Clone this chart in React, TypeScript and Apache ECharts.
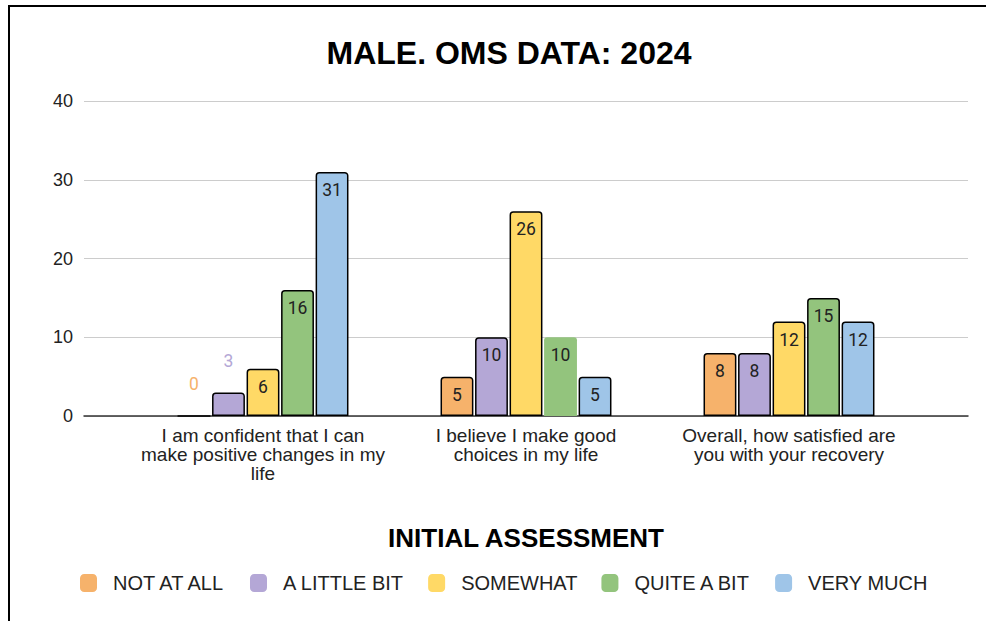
import React, { useEffect, useRef } from "react";
import * as echarts from "echarts";

const titleText = "MALE. OMS DATA: 2024";
const axisTitle = "INITIAL ASSESSMENT";
const categories = [
  "I am confident that I can\nmake positive changes in my\nlife",
  "I believe I make good\nchoices in my life",
  "Overall, how satisfied are\nyou with your recovery",
];
const seriesNames = ["NOT AT ALL", "A LITTLE BIT", "SOMEWHAT", "QUITE A BIT", "VERY MUCH"];
const notAtAll = [0, 5, 8];
const aLittleBit = [3, 10, 8];
const somewhat = [6, 26, 12];
const quiteABit = [16, 10, 15];
const veryMuch = [31, 5, 12];
const seriesValues = [notAtAll, aLittleBit, somewhat, quiteABit, veryMuch];
const colors = ["#f6b26b", "#b4a7d6", "#ffd966", "#93c47d", "#9fc5e8"];
const yMin = 0;
const yMax = 40;
const yInterval = 10;
// bars drawn without an outline in the reference: [seriesIndex, categoryIndex]
const unoutlined = [[3, 1]];

const SANS = "'Liberation Sans', Arial, sans-serif";

export default function App() {
  const ref = useRef<HTMLDivElement>(null);
  useEffect(() => {
    if (!ref.current) return;
    const chart = echarts.init(ref.current, null, { renderer: "svg" });
    const series = seriesValues.map((vals, si) => ({
      name: seriesNames[si],
      type: "bar",
      xAxisIndex: 1,
      yAxisIndex: 1,
      barGap: "5%",
      barCategoryGap: "35%",
      itemStyle: {
        color: colors[si],
        borderColor: "#000",
        borderWidth: 1.5,
        borderRadius: [3, 3, 0, 0],
      },
      label: {
        show: true,
        position: "insideTop",
        distance: 9,
        fontFamily: "Roboto",
        fontSize: 17.5,
        color: "#222",
      },
      data: vals.map((v, ci) => {
        const item: any = { value: v };
        if (v < 4) {
          item.label = { position: "top", distance: 22, color: colors[si] };
        }
        if (unoutlined.some(([s, c]) => s === si && c === ci)) {
          item.itemStyle = { borderWidth: 0 };
        }
        return item;
      }),
    }));
    chart.setOption({
      animation: false,
      title: {
        text: titleText,
        left: 504,
        top: 32,
        textAlign: "center",
        textStyle: { fontFamily: SANS, fontSize: 32, fontWeight: "bold", color: "#000" },
      },
      legend: {
        data: seriesNames,
        left: 80,
        top: 573,
        padding: 0,
        icon: "roundRect",
        itemWidth: 17,
        itemHeight: 18,
        itemGap: 24,
        itemStyle: { borderWidth: 0 },
        textStyle: { fontFamily: SANS, fontSize: 20, color: "#222", padding: [0, 0, 0, 11] },
      },
      grid: [
        { left: 84, right: 18, top: 101, bottom: 205 },
        { left: 131.5, width: 789, top: 101, bottom: 205 },
      ],
      xAxis: [
        {
          type: "category",
          gridIndex: 0,
          data: ["", "", ""],
          axisTick: { show: false },
          axisLabel: { show: false },
          axisLine: { lineStyle: { color: "#333", width: 1.5 } },
          name: axisTitle,
          nameLocation: "middle",
          nameGap: 109,
          nameTextStyle: { fontFamily: SANS, fontSize: 26, fontWeight: "bold", color: "#000" },
        },
        {
          type: "category",
          gridIndex: 1,
          data: categories,
          axisTick: { show: false },
          axisLine: { show: false },
          axisLabel: {
            interval: 0,
            margin: 10,
            fontFamily: SANS,
            fontSize: 19,
            lineHeight: 19,
            color: "#222",
          },
        },
      ],
      yAxis: [
        {
          type: "value",
          gridIndex: 0,
          min: yMin,
          max: yMax,
          interval: yInterval,
          axisLine: { show: false },
          axisTick: { show: false },
          axisLabel: { margin: 11, fontFamily: SANS, fontSize: 18, color: "#222" },
          splitLine: { lineStyle: { color: "#cccccc", width: 1 } },
        },
        {
          type: "value",
          gridIndex: 1,
          min: yMin,
          max: yMax,
          interval: yInterval,
          show: false,
          splitLine: { show: false },
        },
      ],
      series,
    });
    return () => chart.dispose();
  }, []);
  return (
    <div style={{ position: "fixed", left: 0, top: 0, width: 986, height: 621, background: "#fff", overflow: "hidden" }}>
      <div
        style={{
          position: "absolute",
          left: 8,
          top: 5,
          width: 1200,
          height: 800,
          borderTop: "2px solid #000",
          borderLeft: "2px solid #000",
        }}
      />
      <div ref={ref} style={{ position: "absolute", left: 0, top: 0, width: 986, height: 621 }} />
    </div>
  );
}
